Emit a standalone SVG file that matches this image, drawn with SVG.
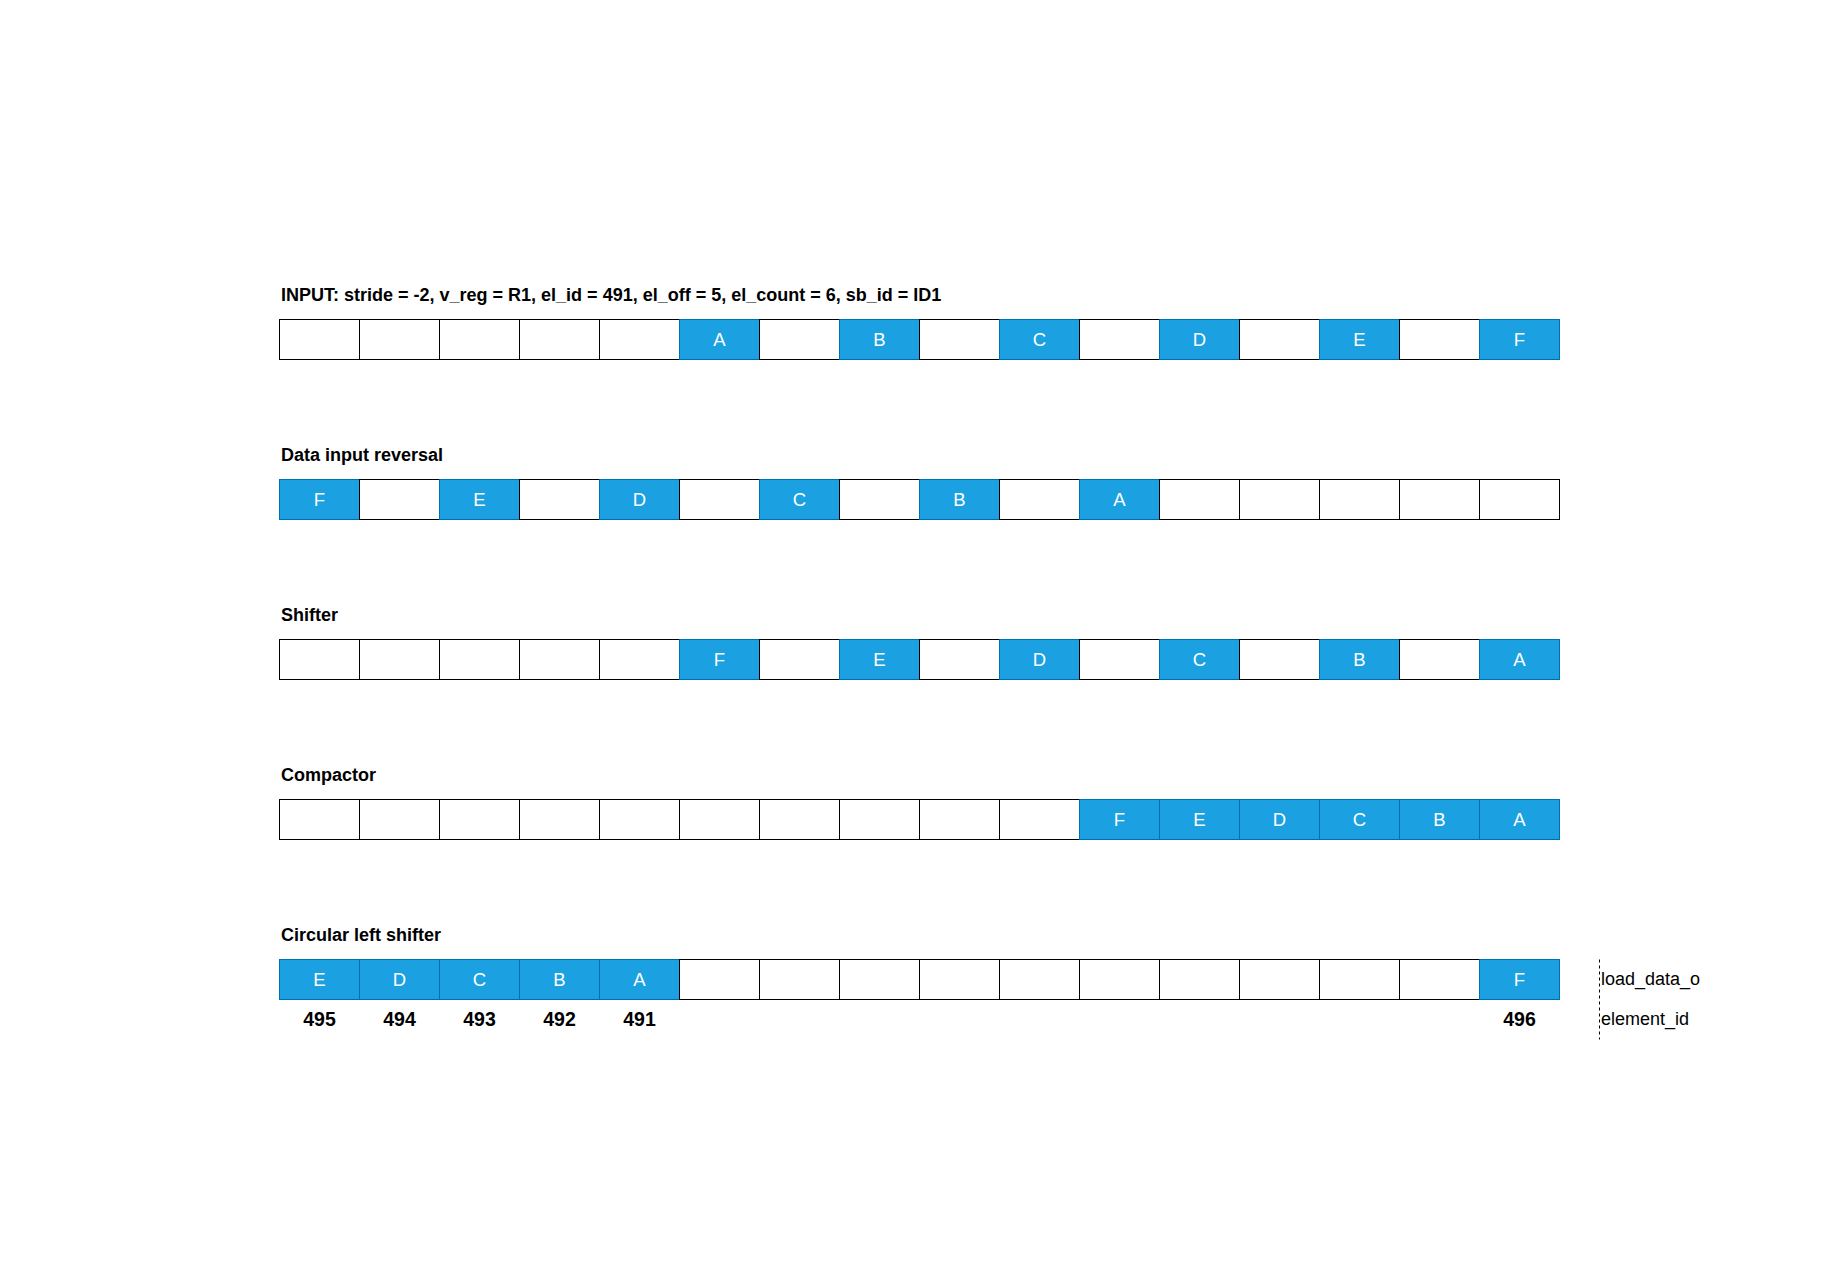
<svg xmlns="http://www.w3.org/2000/svg" width="1839" height="1279" viewBox="0 0 1839 1279">
<style>
.c{fill:#ffffff;stroke:#000000;stroke-width:1}
.b{fill:#1ba1e2;stroke:#006eaf;stroke-width:1}
.t{font-family:"Liberation Sans",Arial,sans-serif;font-size:18.5px;fill:#ffffff;text-anchor:middle}
.h{font-family:"Liberation Sans",Arial,sans-serif;font-size:18px;font-weight:bold;fill:#000000}
.n{font-family:"Liberation Sans",Arial,sans-serif;font-size:19.5px;font-weight:bold;fill:#000000;text-anchor:middle}
.l{font-family:"Liberation Sans",Arial,sans-serif;font-size:18px;fill:#000000}
</style>
<rect width="1839" height="1279" fill="#ffffff"/>
<defs>
<rect id="w" class="c" width="80" height="40"/>
<rect id="bb" class="b" width="80" height="40"/>
</defs>

<g id="row-input">
<text class="h" x="281" y="301">INPUT: stride = -2, v_reg = R1, el_id = 491, el_off = 5, el_count = 6, sb_id = ID1</text>
<use href="#w" x="279.5" y="319.5"/><use href="#w" x="359.5" y="319.5"/><use href="#w" x="439.5" y="319.5"/><use href="#w" x="519.5" y="319.5"/><use href="#w" x="599.5" y="319.5"/>
<use href="#bb" x="679.5" y="319.5"/><text class="t" x="719.5" y="346">A</text>
<use href="#w" x="759.5" y="319.5"/>
<use href="#bb" x="839.5" y="319.5"/><text class="t" x="879.5" y="346">B</text>
<use href="#w" x="919.5" y="319.5"/>
<use href="#bb" x="999.5" y="319.5"/><text class="t" x="1039.5" y="346">C</text>
<use href="#w" x="1079.5" y="319.5"/>
<use href="#bb" x="1159.5" y="319.5"/><text class="t" x="1199.5" y="346">D</text>
<use href="#w" x="1239.5" y="319.5"/>
<use href="#bb" x="1319.5" y="319.5"/><text class="t" x="1359.5" y="346">E</text>
<use href="#w" x="1399.5" y="319.5"/>
<use href="#bb" x="1479.5" y="319.5"/><text class="t" x="1519.5" y="346">F</text>
</g>

<g id="row-reversal">
<text class="h" x="281" y="461">Data input reversal</text>
<use href="#bb" x="279.5" y="479.5"/><text class="t" x="319.5" y="506">F</text>
<use href="#w" x="359.5" y="479.5"/>
<use href="#bb" x="439.5" y="479.5"/><text class="t" x="479.5" y="506">E</text>
<use href="#w" x="519.5" y="479.5"/>
<use href="#bb" x="599.5" y="479.5"/><text class="t" x="639.5" y="506">D</text>
<use href="#w" x="679.5" y="479.5"/>
<use href="#bb" x="759.5" y="479.5"/><text class="t" x="799.5" y="506">C</text>
<use href="#w" x="839.5" y="479.5"/>
<use href="#bb" x="919.5" y="479.5"/><text class="t" x="959.5" y="506">B</text>
<use href="#w" x="999.5" y="479.5"/>
<use href="#bb" x="1079.5" y="479.5"/><text class="t" x="1119.5" y="506">A</text>
<use href="#w" x="1159.5" y="479.5"/><use href="#w" x="1239.5" y="479.5"/><use href="#w" x="1319.5" y="479.5"/><use href="#w" x="1399.5" y="479.5"/><use href="#w" x="1479.5" y="479.5"/>
</g>

<g id="row-shifter">
<text class="h" x="281" y="621">Shifter</text>
<use href="#w" x="279.5" y="639.5"/><use href="#w" x="359.5" y="639.5"/><use href="#w" x="439.5" y="639.5"/><use href="#w" x="519.5" y="639.5"/><use href="#w" x="599.5" y="639.5"/>
<use href="#bb" x="679.5" y="639.5"/><text class="t" x="719.5" y="666">F</text>
<use href="#w" x="759.5" y="639.5"/>
<use href="#bb" x="839.5" y="639.5"/><text class="t" x="879.5" y="666">E</text>
<use href="#w" x="919.5" y="639.5"/>
<use href="#bb" x="999.5" y="639.5"/><text class="t" x="1039.5" y="666">D</text>
<use href="#w" x="1079.5" y="639.5"/>
<use href="#bb" x="1159.5" y="639.5"/><text class="t" x="1199.5" y="666">C</text>
<use href="#w" x="1239.5" y="639.5"/>
<use href="#bb" x="1319.5" y="639.5"/><text class="t" x="1359.5" y="666">B</text>
<use href="#w" x="1399.5" y="639.5"/>
<use href="#bb" x="1479.5" y="639.5"/><text class="t" x="1519.5" y="666">A</text>
</g>

<g id="row-compactor">
<text class="h" x="281" y="781">Compactor</text>
<use href="#w" x="279.5" y="799.5"/><use href="#w" x="359.5" y="799.5"/><use href="#w" x="439.5" y="799.5"/><use href="#w" x="519.5" y="799.5"/><use href="#w" x="599.5" y="799.5"/>
<use href="#w" x="679.5" y="799.5"/><use href="#w" x="759.5" y="799.5"/><use href="#w" x="839.5" y="799.5"/><use href="#w" x="919.5" y="799.5"/><use href="#w" x="999.5" y="799.5"/>
<use href="#bb" x="1079.5" y="799.5"/><text class="t" x="1119.5" y="826">F</text>
<use href="#bb" x="1159.5" y="799.5"/><text class="t" x="1199.5" y="826">E</text>
<use href="#bb" x="1239.5" y="799.5"/><text class="t" x="1279.5" y="826">D</text>
<use href="#bb" x="1319.5" y="799.5"/><text class="t" x="1359.5" y="826">C</text>
<use href="#bb" x="1399.5" y="799.5"/><text class="t" x="1439.5" y="826">B</text>
<use href="#bb" x="1479.5" y="799.5"/><text class="t" x="1519.5" y="826">A</text>
</g>

<g id="row-circular">
<text class="h" x="281" y="941">Circular left shifter</text>
<use href="#bb" x="279.5" y="959.5"/><text class="t" x="319.5" y="986">E</text>
<use href="#bb" x="359.5" y="959.5"/><text class="t" x="399.5" y="986">D</text>
<use href="#bb" x="439.5" y="959.5"/><text class="t" x="479.5" y="986">C</text>
<use href="#bb" x="519.5" y="959.5"/><text class="t" x="559.5" y="986">B</text>
<use href="#bb" x="599.5" y="959.5"/><text class="t" x="639.5" y="986">A</text>
<use href="#w" x="679.5" y="959.5"/><use href="#w" x="759.5" y="959.5"/><use href="#w" x="839.5" y="959.5"/><use href="#w" x="919.5" y="959.5"/><use href="#w" x="999.5" y="959.5"/>
<use href="#w" x="1079.5" y="959.5"/><use href="#w" x="1159.5" y="959.5"/><use href="#w" x="1239.5" y="959.5"/><use href="#w" x="1319.5" y="959.5"/><use href="#w" x="1399.5" y="959.5"/>
<use href="#bb" x="1479.5" y="959.5"/><text class="t" x="1519.5" y="986">F</text>
<text class="n" x="319.5" y="1026">495</text>
<text class="n" x="399.5" y="1026">494</text>
<text class="n" x="479.5" y="1026">493</text>
<text class="n" x="559.5" y="1026">492</text>
<text class="n" x="639.5" y="1026">491</text>
<text class="n" x="1519.5" y="1026">496</text>
</g>

<g id="legend">
<line x1="1599.5" y1="959.5" x2="1599.5" y2="1039.5" stroke="#000000" stroke-width="1" stroke-dasharray="3 3"/>
<text class="l" x="1601" y="985">load_data_o</text>
<text class="l" x="1601" y="1025">element_id</text>
</g>
</svg>
